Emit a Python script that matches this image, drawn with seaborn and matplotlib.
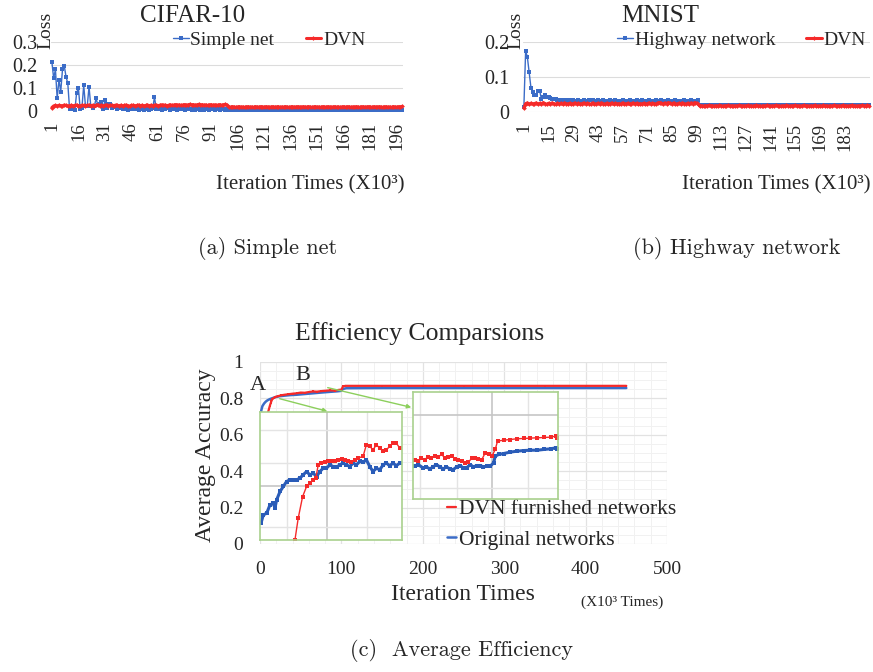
import numpy as np
import matplotlib
matplotlib.use("Agg")
import matplotlib.pyplot as plt
import seaborn as sns

# ---------------- data ----------------
cifar_simple = [
    .214, .142, .181, .055, .135, .084, .181, .196, .149, .120, .008, .007, .008, .005, .080, .099, .010, .015, .113, .020,
    .022, .106, .020, .015, .020, .055, .025, .030, .040, .010, .048, .015, .030, .032, .012, .020, .018, .010, .015, .012,
    .008, .010, .012, .006, .010, .015, .008, .012, .010, .006, .008, .010, .005, .012, .008, .006, .010, .012, .060, .010,
    .008, .012, .006, .010, .008, .012, .015, .006, .010, .008, .012, .006, .010, .012, .008, .006, .010, .012, .008, .006,
    .010, .006, .012, .008, .005, .010, .006, .008, .012, .006, .010, .008, .005, .010, .012, .006, .008, .010, .006, .008,
    .005, .006, .004, .006, .005, .007, .004, .006, .005, .004, .006, .005, .007, .004, .005, .006, .004, .005, .006, .004,
    .006, .005, .004, .007, .005, .004, .006, .005, .004, .006, .007, .004, .005, .006, .004, .005, .007, .004, .006, .005,
    .004, .006, .005, .007, .004, .005, .006, .004, .005, .006, .004, .007, .005, .004, .006, .005, .004, .006, .005, .007,
    .004, .005, .006, .004, .005, .007, .004, .006, .005, .004, .006, .005, .007, .004, .005, .006, .004, .005, .006, .004,
    .006, .005, .004, .007, .005, .004, .006, .005, .004, .006, .007, .004, .005, .006, .004, .005, .007, .004, .006]
cifar_dvn = [
    .015, .022, .024, .021, .025, .023, .022, .026, .024, .021, .023, .025, .022, .024, .026, .023, .021, .025, .024, .022,
    .024, .026, .023, .025, .022, .024, .027, .023, .025, .022, .024, .026, .023, .025, .024, .022, .026, .024, .023, .025,
    .022, .024, .026, .023, .021, .024, .025, .022, .024, .026, .023, .025, .022, .024, .026, .023, .025, .022, .024, .026,
    .023, .025, .027, .024, .026, .023, .025, .027, .024, .026, .028, .025, .027, .024, .026, .028, .025, .027, .029, .026,
    .028, .025, .027, .029, .026, .028, .025, .027, .024, .026, .028, .025, .027, .024, .026, .028, .025, .027, .029, .026,
    .018, .017, .019, .018, .016, .018, .019, .017, .018, .016, .018, .019, .017, .018, .016, .019, .018, .017, .019, .018,
    .017, .019, .018, .016, .018, .019, .017, .018, .019, .016, .018, .017, .019, .018, .016, .018, .019, .017, .018, .019,
    .018, .016, .019, .018, .017, .019, .018, .016, .018, .019, .017, .018, .016, .019, .018, .017, .019, .018, .016, .018,
    .019, .017, .018, .016, .018, .019, .017, .018, .019, .016, .018, .017, .019, .018, .016, .018, .019, .017, .018, .019,
    .018, .016, .019, .018, .017, .019, .018, .016, .018, .019, .017, .018, .016, .019, .018, .017, .019, .018, .020]

mnist_highway = [
    .015, .175, .156, .113, .070, .058, .049, .050, .060, .060, .036, .044, .049, .044, .042, .040, .038, .036, .037, .035,
    .035, .034, .034, .033, .034, .032, .033, .032, .034, .031, .032, .033, .031, .032, .034, .032, .031, .033, .035, .033,
    .032, .031, .033, .030, .032, .034, .031, .032, .030, .033, .031, .032, .034, .030, .032, .031, .033, .030, .032, .031,
    .033, .030, .032, .031, .033, .030, .032, .034, .031, .032, .030, .033, .031, .032, .030, .033, .032, .031, .033, .030,
    .032, .031, .033, .030, .032, .031, .033, .032, .030, .032, .031, .033, .030, .032, .031, .033, .030, .032, .031, .033,
    .019, .020, .019, .021, .020, .019, .020, .021, .019, .020, .019, .021, .020, .019, .020, .021, .019, .020, .019, .021,
    .020, .019, .021, .020, .019, .020, .021, .019, .020, .021, .019, .020, .019, .021, .020, .019, .021, .020, .019, .020,
    .021, .019, .020, .019, .021, .020, .019, .020, .021, .019, .020, .021, .019, .020, .019, .021, .020, .019, .021, .020,
    .019, .020, .021, .019, .020, .019, .021, .020, .019, .020, .021, .019, .020, .021, .019, .020, .019, .021, .020, .019,
    .021, .020, .019, .020, .021, .019, .020, .021, .019, .020, .019, .021, .020, .019, .021, .020, .020]
mnist_dvn = [
    .012, .024, .026, .022, .025, .023, .024, .026, .022, .025, .023, .027, .024, .022, .025, .023, .026, .024, .022, .025,
    .023, .025, .022, .026, .024, .023, .025, .022, .024, .026, .023, .025, .022, .024, .026, .023, .025, .024, .022, .026,
    .024, .022, .025, .023, .026, .024, .022, .025, .023, .024, .026, .022, .025, .023, .024, .022, .026, .024, .023, .025,
    .022, .024, .026, .023, .025, .022, .024, .023, .025, .022, .024, .026, .023, .025, .024, .022, .026, .027, .025, .023,
    .026, .024, .027, .025, .023, .026, .024, .022, .025, .023, .026, .024, .022, .025, .023, .026, .024, .027, .025, .023,
    .017, .018, .016, .018, .017, .019, .017, .018, .016, .018, .017, .019, .018, .016, .018, .017, .019, .017, .018, .016,
    .018, .017, .019, .018, .016, .018, .017, .019, .017, .018, .016, .018, .019, .017, .018, .016, .018, .017, .019, .018,
    .016, .018, .017, .019, .017, .018, .016, .018, .017, .019, .018, .016, .018, .017, .019, .017, .018, .016, .018, .019,
    .017, .018, .016, .018, .017, .019, .018, .016, .018, .017, .019, .017, .018, .016, .018, .017, .019, .018, .016, .018,
    .017, .019, .017, .018, .016, .018, .019, .017, .018, .016, .018, .017, .019, .018, .017, .019, .018]

cifar_ticks = list(range(1, 197, 15))
mnist_ticks = list(range(1, 184, 14))

orig_x = [1, 2, 3, 5, 7, 9, 12, 15, 19, 24, 30, 37, 45, 55, 65, 75, 86, 95, 99, 102, 106,
          150, 200, 250, 300, 350, 400, 450]
orig_y = [.72, .742, .758, .772, .782, .789, .796, .801, .807, .812, .815, .818, .82, .824, .828,
          .832, .836, .839, .841, .852, .856, .857, .857, .857, .857, .857, .857, .857]
dvn_x = [10, 11, 12, 13, 14, 15, 17, 19, 22, 26, 30, 35, 40, 45, 50, 55, 60, 65, 70, 75, 80, 86,
         92, 97, 100, 102, 105, 150, 200, 250, 300, 350, 400, 450]
dvn_y = [.725, .742, .758, .772, .785, .795, .803, .808, .812, .817, .82, .823, .826, .828, .832,
         .831, .835, .838, .837, .84, .842, .844, .843, .847, .848, .866, .869, .869, .869, .869,
         .869, .869, .869, .869]

# inset A (zoomed, inset-local units 0..1)
inA_blue_x = [.007, .023, .047, .070, .094, .105, .117, .141, .164, .187, .211, .234, .258, .281, .304,
              .328, .351, .375, .398, .422, .445, .468, .492, .515, .539, .562, .585, .609, .632, .656,
              .679, .703, .726, .749, .773, .796, .820, .843, .867, .890, .913, .937, .960, .984]
inA_blue_y = [.131, .196, .209, .274, .287, .248, .313, .379, .418, .457, .470, .470, .470, .483, .509,
              .535, .509, .522, .496, .535, .561, .561, .587, .574, .569, .587, .601, .587, .574, .601,
              .587, .614, .606, .627, .574, .535, .561, .548, .587, .601, .580, .601, .580, .601]
inA_red_x = [.246, .269, .300, .328, .351, .375, .393, .410, .433, .457, .480, .504, .527, .550, .574,
             .597, .621, .644, .667, .691, .726, .749, .773, .796, .820, .843, .867, .890, .913, .937,
             .960, .984]
inA_red_y = [.000, .170, .339, .418, .444, .470, .483, .587, .601, .606, .614, .614, .619, .627, .634,
             .627, .614, .606, .627, .640, .653, .744, .731, .705, .744, .718, .692, .705, .731, .757,
             .757, .718]
# inset B
inB_blue_x = [.012, .035, .069, .093, .116, .139, .162, .185, .208, .231, .255, .278, .301, .324, .347,
              .370, .394, .417, .440, .463, .486, .509, .532, .556, .567, .590, .625, .671, .718, .764,
              .810, .856, .903, .949, .984, .995]
inB_blue_y = [.306, .322, .291, .300, .281, .300, .322, .300, .281, .300, .281, .275, .300, .313, .291,
              .291, .322, .300, .313, .313, .300, .306, .306, .338, .400, .416, .425, .438, .447, .453,
              .456, .456, .463, .469, .478, .469]
inB_red_x = [.012, .035, .058, .081, .104, .127, .150, .174, .197, .220, .243, .266, .289, .313, .336,
             .359, .382, .405, .428, .451, .475, .498, .521, .544, .567, .583, .625, .671, .718, .764,
             .810, .856, .903, .949, .984, .995]
inB_red_y = [.363, .353, .384, .369, .394, .384, .406, .394, .416, .384, .394, .406, .378, .369, .353,
             .338, .344, .381, .384, .375, .369, .431, .416, .400, .463, .541, .550, .556, .563, .566,
             .569, .572, .575, .578, .588, .572]

# ---------------- style ----------------
sns.set_style("white")
plt.rcParams["font.family"] = ["Liberation Serif", "DejaVu Serif"]

BLUE = "#3b6cc7"
RED = "#f52a2a"
IBLUE = "#2a5cb8"
GREEN = "#a9d18e"
W, H = 873, 672
fig = plt.figure(figsize=(W / 100, H / 100), dpi=100)


def box(l, t, r, b):
    return [l / W, 1 - b / H, (r - l) / W, (b - t) / H]


def loss_panel(rect, blue, red, blue_label, ymax, yt, xt, leg_x):
    ax = fig.add_axes(rect)
    xb = np.arange(1, len(blue) + 1)
    xr = np.arange(1, len(red) + 1)
    sns.lineplot(x=xb, y=blue, ax=ax, color=BLUE, lw=1.0, marker="s", ms=2.6,
                 mec=BLUE, mew=0, label=blue_label)
    sns.lineplot(x=xr, y=red, ax=ax, color=RED, lw=2.2, marker="D", ms=2.4,
                 mec=RED, mew=0, label="DVN")
    for ln in ax.lines:
        ln.set_clip_on(False)
    ax.set_xlim(0.5, len(blue) + 0.5)
    ax.set_ylim(0, ymax)
    ax.set_yticks(yt)
    ax.set_yticklabels(["0" if v == 0 else f"{v:g}" for v in yt])
    ax.set_xticks(xt)
    ax.set_xticklabels([str(v) for v in xt], rotation=90)
    ax.grid(axis="y", color="#dcdcdc", lw=0.8)
    for s in ax.spines.values():
        s.set_visible(False)
    ax.tick_params(axis="x", length=0, labelsize=13.5, pad=8)
    ax.tick_params(axis="y", length=0, labelsize=14.5, pad=10)
    ax.set_xlabel("")
    ax.set_ylabel("")
    ax.legend(loc="center", bbox_to_anchor=(leg_x, 1.03), ncol=2, frameon=False,
              handlelength=0.8, handletextpad=0.1, columnspacing=1.6, fontsize=14,
              borderpad=0, borderaxespad=0)
    return ax


loss_panel(box(51, 42, 403, 111), cifar_simple, cifar_dvn, "Simple net", 0.3,
           [0, 0.1, 0.2, 0.3], cifar_ticks, 0.62)
loss_panel(box(523, 42, 870, 112), mnist_highway, mnist_dvn, "Highway network", 0.2,
           [0, 0.1, 0.2], mnist_ticks, 0.63)

fig.text(193 / W, 1 - 16 / H, "CIFAR-10", fontsize=18, ha="center", va="center")
fig.text(660 / W, 1 - 16 / H, "MNIST", fontsize=18, ha="center", va="center")
fig.text(46 / W, 1 - 30 / H, "Loss", fontsize=14, rotation=90, ha="center", va="center")
fig.text(516 / W, 1 - 30 / H, "Loss", fontsize=14, rotation=90, ha="center", va="center")
fig.text(405 / W, 1 - 185 / H, "Iteration Times (X10³)", fontsize=15, ha="right", va="center")
fig.text(871 / W, 1 - 185 / H, "Iteration Times (X10³)", fontsize=15, ha="right", va="center")

# ---------------- bottom panel ----------------
ax = fig.add_axes(box(260, 362, 667, 544))
sns.lineplot(x=orig_x, y=orig_y, ax=ax, color=BLUE, lw=1.8, label="Original networks")
sns.lineplot(x=dvn_x, y=dvn_y, ax=ax, color=RED, lw=1.6, marker="s", ms=1.6, mew=0,
             label="DVN furnished networks")
ax.set_xlim(0, 500)
ax.set_ylim(0, 1)
ax.set_xticks(range(0, 501, 100))
ax.set_xticks(range(0, 501, 20), minor=True)
ax.set_yticks([0, 0.2, 0.4, 0.6, 0.8, 1.0])
ax.set_yticklabels(["0", "0.2", "0.4", "0.6", "0.8", "1"])
ax.set_yticks(np.arange(0, 1.001, 0.05), minor=True)
ax.grid(which="major", color="#e2e2e2", lw=0.9)
ax.grid(which="minor", color="#f1f1f1", lw=0.7)
for s in ax.spines.values():
    s.set_visible(False)
ax.tick_params(axis="both", which="both", length=0, labelsize=14)
ax.tick_params(axis="y", pad=12)
ax.tick_params(axis="x", pad=12)
ax.set_xlabel("")
ax.set_ylabel("")
h, l = ax.get_legend_handles_labels()
ax.legend(h[::-1], l[::-1], loc="upper left", bbox_to_anchor=(447 / W, 1 - 499 / H),
          bbox_transform=fig.transFigure, frameon=False, handlelength=0.4,
          handletextpad=0.15, labelspacing=0.5, fontsize=15.5, borderpad=0, borderaxespad=0)

ax.annotate("", xy=(330 / W, 1 - 412 / H), xytext=(277 / W, 1 - 398 / H),
            xycoords="figure fraction", textcoords="figure fraction",
            arrowprops=dict(arrowstyle="-|>", color="#8ccf5c", lw=1.0, mutation_scale=6))
ax.annotate("", xy=(414 / W, 1 - 408 / H), xytext=(325 / W, 1 - 387 / H),
            xycoords="figure fraction", textcoords="figure fraction",
            arrowprops=dict(arrowstyle="-|>", color="#8ccf5c", lw=1.0, mutation_scale=6))

fig.text(420 / W, 1 - 334 / H, "Efficiency Comparsions", fontsize=18.5, ha="center", va="center")
fig.text(206 / W, 1 - 455 / H, "Average Accuracy", fontsize=17, rotation=90, ha="center", va="center")
fig.text(463 / W, 1 - 594 / H, "Iteration Times", fontsize=17, ha="center", va="center")
fig.text(622 / W, 1 - 602 / H, "(X10³ Times)", fontsize=11, ha="center", va="center")
fig.text(258 / W, 1 - 386 / H, "A", fontsize=16, ha="center", va="center")
fig.text(303 / W, 1 - 376 / H, "B", fontsize=16, ha="center", va="center")


def inset(rect, bx, by, rx, ry, xmaj, xmin, ymaj, ymin):
    a = fig.add_axes(rect)
    a.set_facecolor("white")
    sns.lineplot(x=bx, y=by, ax=a, color=IBLUE, lw=2.2, marker="s", ms=3.2, mew=0)
    sns.lineplot(x=rx, y=ry, ax=a, color=RED, lw=1.0, marker="s", ms=3.4, mew=0)
    a.set_xlim(0, 1)
    a.set_ylim(0, 1)
    a.set_xticks(xmaj)
    a.set_xticks(xmin, minor=True)
    a.set_yticks(ymaj)
    a.set_yticks(ymin, minor=True)
    a.grid(which="major", color="#c6c6c6", lw=1.2)
    a.grid(which="minor", color="#e4e4e4", lw=1.0)
    a.set_axisbelow(True)
    a.tick_params(which="both", length=0, labelbottom=False, labelleft=False)
    a.set_xlabel("")
    a.set_ylabel("")
    for s in a.spines.values():
        s.set_visible(True)
        s.set_color(GREEN)
        s.set_linewidth(1.2)
    return a


inset(box(260, 412, 402, 540), inA_blue_x, inA_blue_y, inA_red_x, inA_red_y,
      [0.47], [0.19, 0.75], [0.42], [0.10, 0.60, 0.86])
inset(box(413, 392, 558, 499), inB_blue_x, inB_blue_y, inB_red_x, inB_red_y,
      [0.545], [0.05, 0.30, 0.79], [0.785], [0.10])

# ---------------- captions ----------------
fig.text(268 / W, 1 - 248 / H, "(a) Simple net", fontsize=16, family="cmr10", ha="center", va="center")
fig.text(737 / W, 1 - 248 / H, "(b) Highway network", fontsize=16, family="cmr10", ha="center", va="center")
fig.text(461 / W, 1 - 651 / H, "(c)  Average Efficiency", fontsize=16, family="cmr10", ha="center", va="center")

fig.savefig("out.png", dpi=100)
